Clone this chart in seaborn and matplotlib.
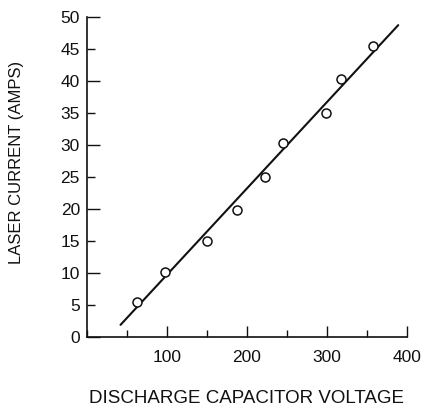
import matplotlib
matplotlib.use("Agg")
import matplotlib.pyplot as plt
import seaborn as sns
import pandas as pd
from matplotlib.ticker import MultipleLocator

# Measured data points
voltage = [63, 98, 150, 188, 223, 245, 299, 318, 357]
current = [5.5, 10.2, 15.0, 19.8, 25.0, 30.4, 35.0, 40.3, 45.5]

# Fitted straight line endpoints
fit_voltage = [42, 389]
fit_current = [1.9, 48.75]

x_ticks = [100, 200, 300, 400]
y_ticks = [0, 5, 10, 15, 20, 25, 30, 35, 40, 45, 50]

sns.set_theme(style="ticks")
plt.rcParams['font.family'] = ['Liberation Sans', 'DejaVu Sans']

fig = plt.figure(figsize=(4.24, 4.08), dpi=100)
ax = fig.add_axes([0.205, 0.174, 0.755, 0.784])

pts = pd.DataFrame({"v": voltage, "i": current})
fit = pd.DataFrame({"v": fit_voltage, "i": fit_current})

sns.lineplot(data=fit, x="v", y="i", ax=ax, color="#111111", linewidth=1.5)
sns.scatterplot(data=pts, x="v", y="i", ax=ax, marker="o", s=42,
                facecolor="white", edgecolor="#111111", linewidth=1.1, zorder=3)

ax.set_xlim(0, 400)
ax.set_ylim(0, 50)
ax.set_xticks(x_ticks)
ax.set_yticks(y_ticks)
ax.xaxis.set_minor_locator(MultipleLocator(50))

for s in ["top", "right"]:
    ax.spines[s].set_visible(False)
for s in ["left", "bottom"]:
    ax.spines[s].set_color("#111111")
    ax.spines[s].set_linewidth(1.2)

ax.tick_params(axis="x", which="major", direction="in", length=8, width=1.0,
               pad=9, labelsize=12.5, colors="#111111")
ax.tick_params(axis="x", which="minor", direction="in", length=5, width=1.0,
               colors="#111111")
ax.tick_params(axis="y", which="major", direction="in", length=9, width=1.0,
               pad=5, labelsize=12.5, colors="#111111")

# y major ticks: longer on multiples of 10
for val, tick in zip(y_ticks, ax.yaxis.get_major_ticks()):
    tick.tick1line.set_markersize(9 if val % 10 == 0 else 6)

ax.set_xlabel("DISCHARGE CAPACITOR VOLTAGE", fontsize=13.5, labelpad=18,
              color="#111111")
ax.set_ylabel("LASER CURRENT (AMPS)", fontsize=12, color="#111111")
ax.yaxis.set_label_coords(-0.195, 0.547)

fig.savefig("out.png", dpi=100, facecolor="white")
